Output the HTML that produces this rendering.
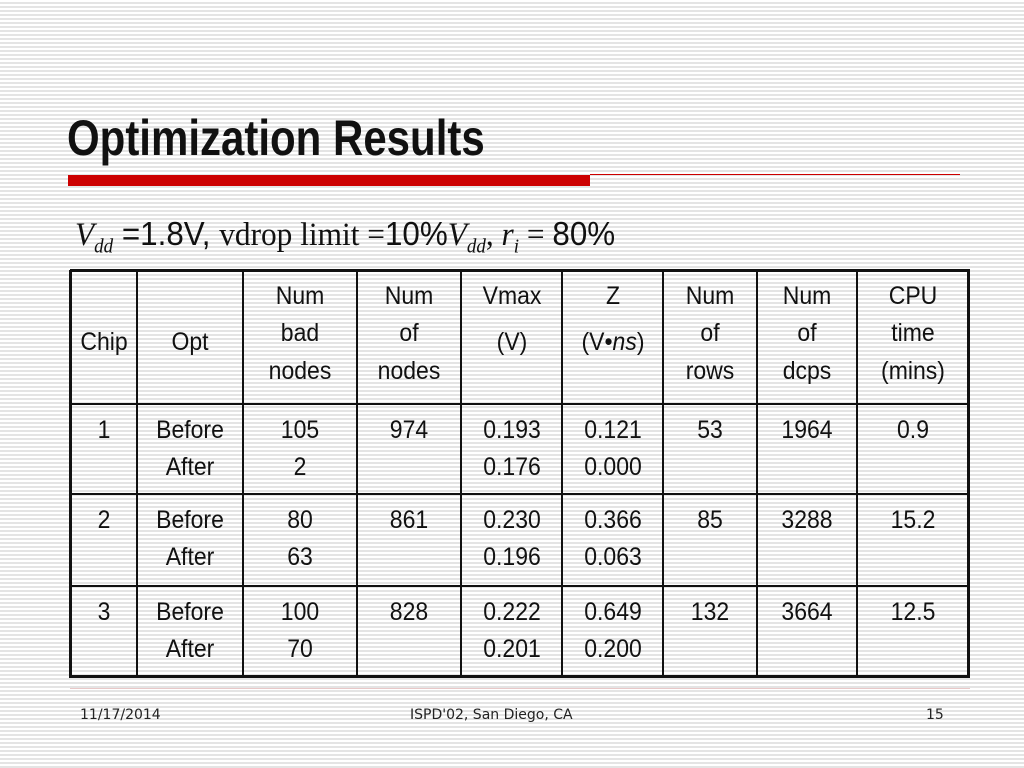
<!DOCTYPE html>
<html><head><meta charset="utf-8"><style>
body{margin:0;width:1024px;height:768px;overflow:hidden;position:relative;
background:repeating-linear-gradient(to bottom,#fff 0,#fff 2px,#e4e4e4 2px,#e4e4e4 4px);
font-family:"Liberation Sans Narrow","Liberation Sans",sans-serif;}
.a{position:absolute;}
.t{position:absolute;font-size:25px;line-height:30px;transform:translate(-50%,-50%) scaleX(0.92);white-space:nowrap;color:#111;}
.v{position:absolute;background:#111;}
</style></head><body>
<div class="a" style="left:67px;top:110px;font-size:50px;font-weight:bold;line-height:56px;color:#111;transform:scaleX(0.84);transform-origin:0 0;white-space:nowrap">Optimization Results</div>
<div class="a" style="left:68px;top:175px;width:522px;height:11px;background:#cc0000"></div>
<div class="a" style="left:590px;top:174px;width:370px;height:1px;background:#cc0000"></div>
<div class="a" style="left:75px;top:212px;font-size:33px;line-height:44px;white-space:nowrap;color:#111;transform:scaleX(0.95);transform-origin:0 0">
<i style="font-family:'Liberation Serif',serif">V<sub style="font-size:20px">dd</sub></i> <span style="font-family:'Liberation Sans',sans-serif">=1.8V,</span> <span style="font-family:'Liberation Serif',serif">vdrop limit =</span><span style="font-family:'Liberation Sans',sans-serif">10%</span><i style="font-family:'Liberation Serif',serif">V<sub style="font-size:20px">dd</sub></i><span style="font-family:'Liberation Serif',serif">, <i>r<sub style="font-size:20px">i</sub></i> = </span><span style="font-family:'Liberation Sans',sans-serif">80%</span></div>
<div id="tbl"></div>
<div class="a" style="left:70px;top:688px;width:900px;height:1px;background:#e8c8c8"></div>
<div class="a" style="left:80px;top:707px;font-family:'DejaVu Sans',sans-serif;font-size:14px;color:#222">11/17/2014</div>
<div class="a" style="left:410px;top:707px;font-family:'DejaVu Sans',sans-serif;font-size:14px;color:#222">ISPD'02, San Diego, CA</div>
<div class="a" style="left:926px;top:707px;font-family:'DejaVu Sans',sans-serif;font-size:14px;color:#222">15</div>
<script>
var colX=[70,137,243,357,461,562,663,757,857,968];
var rowY=[270,404,494,586,676];
var headers=[["Chip"],["Opt"],["Num","bad","nodes"],["Num","of","nodes"],["Vmax","(V)"],["Z","(V\u2022<i>ns</i>)"],["Num","of","rows"],["Num","of","dcps"],["CPU","time","(mins)"]];
var rows=[
[["1"],["Before","After"],["105","2"],["974"],["0.193","0.176"],["0.121","0.000"],["53"],["1964"],["0.9"]],
[["2"],["Before","After"],["80","63"],["861"],["0.230","0.196"],["0.366","0.063"],["85"],["3288"],["15.2"]],
[["3"],["Before","After"],["100","70"],["828"],["0.222","0.201"],["0.649","0.200"],["132"],["3664"],["12.5"]]];
var tb=document.getElementById('tbl');
function line(x,y,w,h,n){var d=document.createElement('div');d.className='v';d.style.left=x+'px';d.style.top=y+'px';d.style.width=w+'px';d.style.height=h+'px';


tb.appendChild(d);}
colX.forEach(function(x,i){var w=(i==0||i==colX.length-1)?3:2;line(x-1,rowY[0],w,rowY[rowY.length-1]-rowY[0]+2,'column-border');});
rowY.forEach(function(y,i){var h=(i==0||i==rowY.length-1)?3:2;line(colX[0],y-1,colX[colX.length-1]-colX[0]+2,h,'row-border');});
function txt(cx,cy,s,n){var d=document.createElement('div');d.className='t';d.style.left=cx+'px';d.style.top=cy+'px';d.innerHTML=s;


tb.appendChild(d);}
headers.forEach(function(h,c){var cx=(colX[c]+colX[c+1])/2;
var ys=h.length==3?[296,333,371]:h.length==2?[296,342]:[342];
h.forEach(function(s,k){txt(cx,ys[k],s,'header-cell');});});
rows.forEach(function(r,ri){var top=rowY[ri+1];r.forEach(function(cell,c){var cx=(colX[c]+colX[c+1])/2;
cell.forEach(function(s,k){txt(cx,top+26+k*37,s,'table-cell');});});});
</script>
</body></html>
